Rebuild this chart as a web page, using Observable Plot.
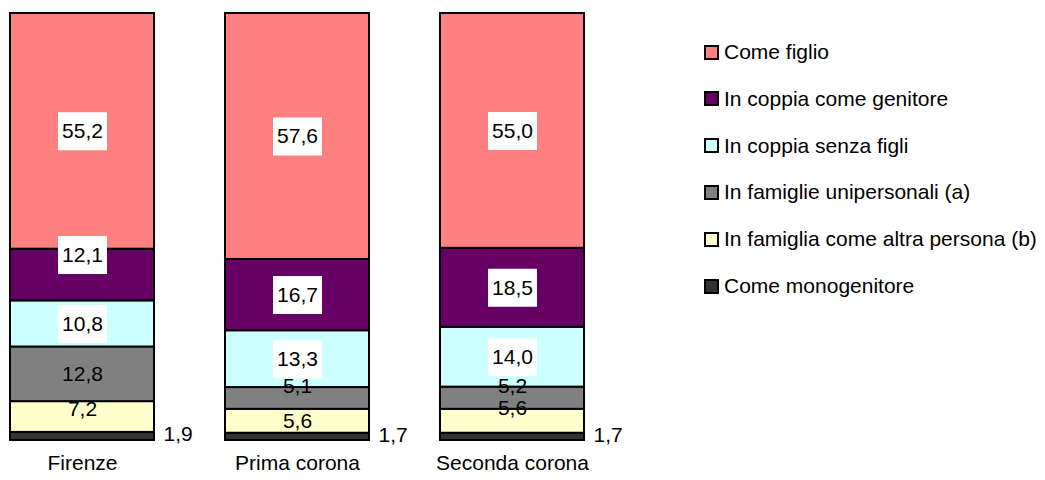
<!DOCTYPE html>
<html>
<head>
<meta charset="utf-8">
<script src="https://cdn.jsdelivr.net/npm/d3@7"></script>
<script src="https://cdn.jsdelivr.net/npm/@observablehq/plot@0.6"></script>
<style>
  body { margin: 0; background: #fff; font-family: "Liberation Sans", Arial, sans-serif; }
  #wrap { position: relative; width: 1045px; height: 480px; overflow: hidden; background: #fff; }
  #chart { position: absolute; left: 0; top: 0; }
  #legend { position: absolute; left: 704px; top: 0; }
  .item { position: absolute; left: 0; height: 24px; line-height: 24px; display: flex; align-items: center; white-space: nowrap; font-size: 21px; color: #000; }
  .sw { width: 11px; height: 11px; border: 2px solid #000; margin-right: 5px; flex: none; }
</style>
</head>
<body>
<div id="wrap">
  <div id="chart"></div>
  <div id="legend"></div>
</div>
<script>
// Areas (x categories)
const categories = ["Firenze", "Prima corona", "Seconda corona"];

// Household roles, listed top of the stack first
const series = [
  "Come figlio",
  "In coppia come genitore",
  "In coppia senza figli",
  "In famiglie unipersonali (a)",
  "In famiglia come altra persona (b)",
  "Come monogenitore"
];
const seriesColors = ["#ff8080", "#660066", "#ccffff", "#808080", "#ffffcc", "#333333"];

// Percentages per area (Firenze, Prima corona, Seconda corona)
const comeFiglio       = [55.2, 57.6, 55.0];
const coppiaGenitore   = [12.1, 16.7, 18.5];
const coppiaSenzaFigli = [10.8, 13.3, 14.0];
const unipersonali     = [12.8, 5.1, 5.2];
const altraPersona     = [7.2, 5.6, 5.6];
const monogenitore     = [1.9, 1.7, 1.7];

const valuesBySeries = [comeFiglio, coppiaGenitore, coppiaSenzaFigli, unipersonali, altraPersona, monogenitore];

// Stack bottom-up: the last series sits on the baseline
const rows = [];
categories.forEach((category, i) => {
  let base = 0;
  for (let j = series.length - 1; j >= 0; --j) {
    const value = valuesBySeries[j][i];
    rows.push({category, series: series[j], value, y1: base, y2: base + value, mid: base + value / 2});
    base += value;
  }
});

const fmt = d => d.value.toFixed(1).replace(".", ",");

// Labels with a white box behind them
const boxedSeries = new Set(series.slice(0, 3));
const outsideSeries = "Come monogenitore";

// Vertical label shifts (px) where labels would collide
const labelNudge = {
  "Firenze|In coppia come genitore": -20,
  "Firenze|In famiglia come altra persona (b)": -8,
  "Prima corona|In famiglie unipersonali (a)": -12,
  "Seconda corona|In famiglie unipersonali (a)": -12,
  "Seconda corona|In famiglia come altra persona (b)": -13
};
const nudge = d => labelNudge[d.category + "|" + d.series] ?? 0;

// Rectangle symbol used as label background
const boxSymbol = { draw(context) { context.rect(-24.5, -19, 49, 38); } };

const labelMarks = [];
const inner = rows.filter(d => d.series !== outsideSeries);
for (const [dy, group] of d3.group(inner, nudge)) {
  labelMarks.push(
    Plot.dot(group.filter(d => boxedSeries.has(d.series)), {
      x: "category", y: "mid", dy, symbol: boxSymbol, fill: "white", stroke: "none"
    }),
    Plot.text(group, {x: "category", y: "mid", dy, text: fmt, fill: "#000", fontSize: 21})
  );
}

const chart = Plot.plot({
  width: 640,
  height: 480,
  marginLeft: 9,
  marginRight: 56,
  marginTop: 13,
  marginBottom: 40,
  x: {domain: categories, paddingInner: 0.332, paddingOuter: 0, label: null},
  y: {domain: [0, 100], axis: null},
  color: {domain: series, range: seriesColors},
  style: {fontFamily: "'Liberation Sans', Arial, sans-serif", fontSize: "21px", color: "#000", background: "transparent"},
  marks: [
    Plot.barY(rows, {x: "category", y1: "y1", y2: "y2", fill: "series", stroke: "#000", strokeWidth: 2}),
    ...labelMarks,
    Plot.text(rows.filter(d => d.series === outsideSeries), {
      x: "category", y: "mid", text: fmt, dx: 81, dy: -2, textAnchor: "start", fill: "#000", fontSize: 21
    }),
    Plot.axisX({tickSize: 0, tickPadding: 15, fontSize: 21, label: null})
  ]
});
document.getElementById("chart").append(chart);

// Legend, in the same order as the stack reads from the top
const legend = d3.select("#legend");
series.forEach((name, i) => {
  const item = legend.append("div").attr("class", "item").style("top", (52 + i * 46.8 - 12) + "px");
  item.append("div").attr("class", "sw").style("background", seriesColors[i]);
  item.append("span").text(name);
});
</script>
</body>
</html>
